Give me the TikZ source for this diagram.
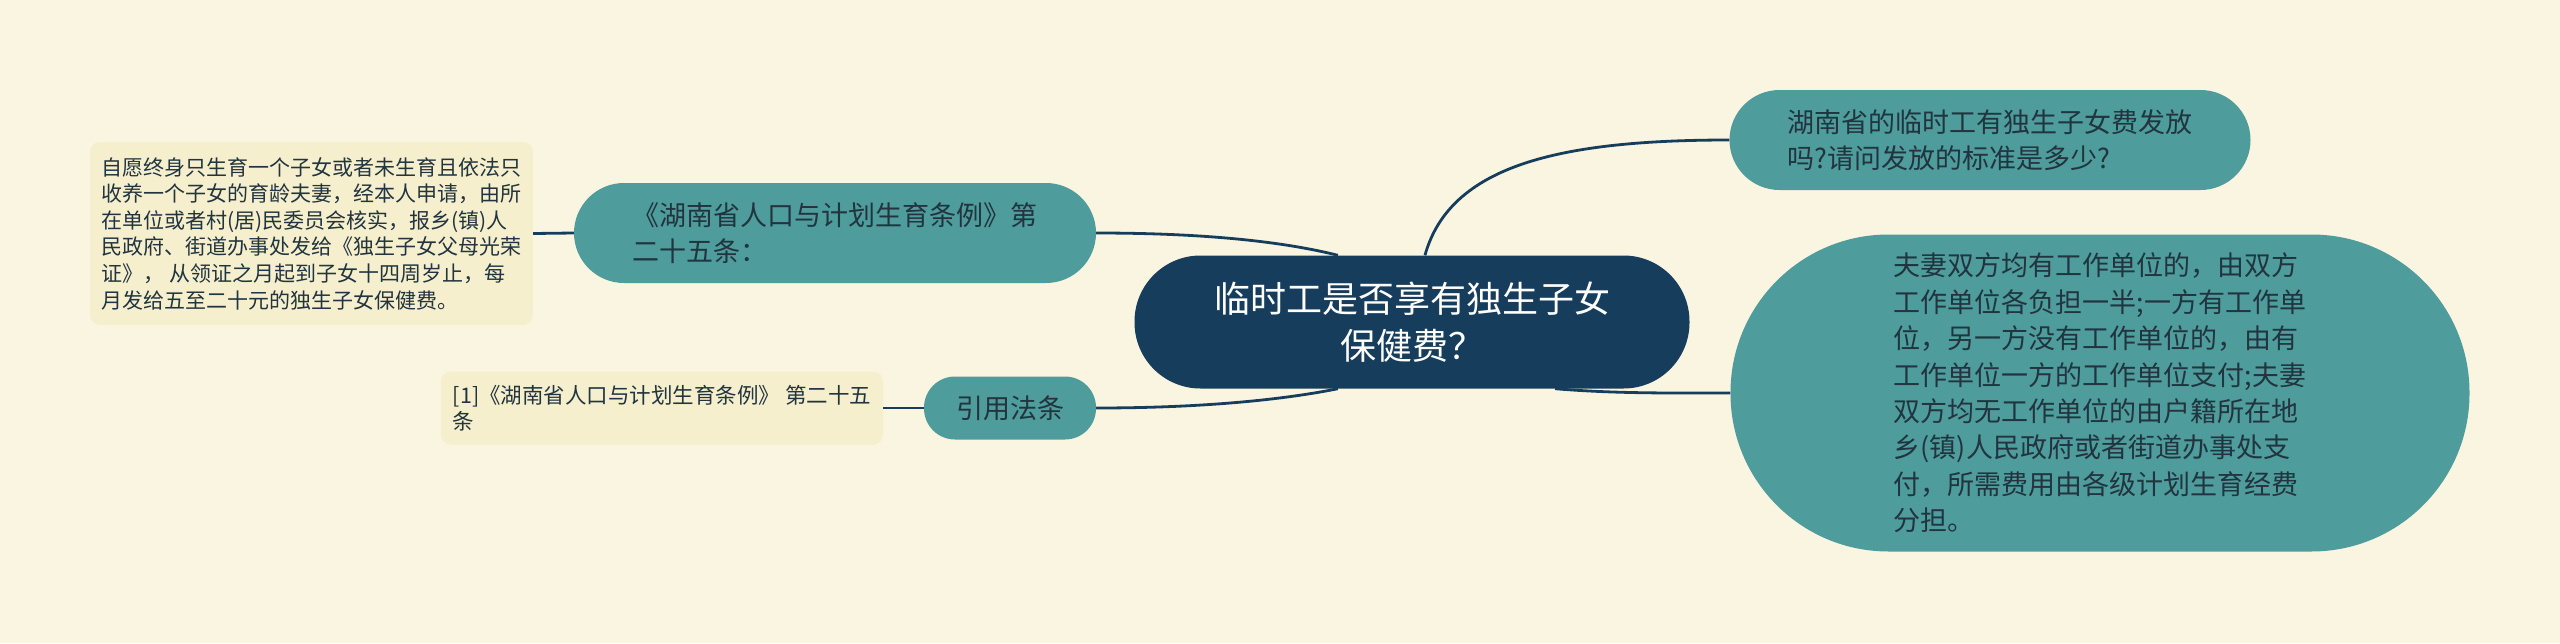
\documentclass[tikz,border=0pt]{standalone}
\usepackage{fontspec}
\setmainfont{Noto Sans CJK SC}
\usepackage{tikz}
\definecolor{paper}{HTML}{FAF5E0}
\definecolor{navy}{HTML}{173D5D}
\definecolor{sea}{HTML}{4E9C9B}
\definecolor{sand}{HTML}{F5EFCD}
\definecolor{ink}{HTML}{21343F}

\begin{document}
\begin{tikzpicture}[x=1pt,y=-1pt,inner sep=0pt,
	root/.style={rectangle,rounded corners=66pt,fill=navy,text=white,minimum width=555pt,minimum height=133pt,align=center,font=\fontsize{36}{47}\selectfont},
	topic/.style={rectangle,fill=sea,text=ink,align=left,font=\fontsize{27}{36}\selectfont},
	note/.style={rectangle,rounded corners=10pt,fill=sand,text=ink,align=left},
	link/.style={navy,line width=2.8pt}]
		\fill[paper] (0,0) rectangle (2560,643);
		\useasboundingbox (0,0) rectangle (2560,643);
		\path (1412,322) node(a)[root]{临时工是否享有独生子女\\保健费？}
		(1990,140) node(b)[topic,rounded corners=50pt,minimum width=521pt,minimum height=100pt]{湖南省的临时工有独生子女费发放\\吗?请问发放的标准是多少?}
		(2100,393) node(c)[topic,rounded corners=158pt,minimum width=739pt,minimum height=317pt,font=\fontsize{27}{36.4}\selectfont]{夫妻双方均有工作单位的，由双方\\工作单位各负担一半;一方有工作单\\位，另一方没有工作单位的，由有\\工作单位一方的工作单位支付;夫妻\\双方均无工作单位的由户籍所在地\\乡(镇)人民政府或者街道办事处支\\付，所需费用由各级计划生育经费\\分担。}
		(835,233) node(d)[topic,rounded corners=50pt,minimum width=522pt,minimum height=100pt]{《湖南省人口与计划生育条例》第\\二十五条：}
		(311.5,233.5) node(e)[note,minimum width=443pt,minimum height=183pt,font=\fontsize{21}{26.6}\selectfont]{自愿终身只生育一个子女或者未生育且依法只\\收养一个子女的育龄夫妻，经本人申请，由所\\在单位或者村(居)民委员会核实，报乡(镇)人\\民政府、街道办事处发给《独生子女父母光荣\\证》， 从领证之月起到子女十四周岁止，每\\月发给五至二十元的独生子女保健费。}
		(1010,408) node(f)[topic,rounded corners=31pt,minimum width=172pt,minimum height=63pt]{引用法条}
		(662,408) node(g)[note,minimum width=442pt,minimum height=73pt,font=\fontsize{21.5}{26}\selectfont]{[1]《湖南省人口与计划生育条例》 第二十五\\条};
		\draw[link] (a.79) .. controls +(25,-90) and +(-170,0) .. (b.west);
		\draw[link] (a.-25) .. controls +(60,5) and +(-60,0) .. (c.west);
		\draw[link] (a.138) .. controls +(-60,-15) and +(100,0) .. (d.east);
		\draw[link] (a.222) .. controls +(-60,12) and +(100,0) .. (f.east);
		\draw[link] (d.west) -- (e.east);
		\draw[link] (f.west) -- (g.east);
	\end{tikzpicture}
\end{document}
